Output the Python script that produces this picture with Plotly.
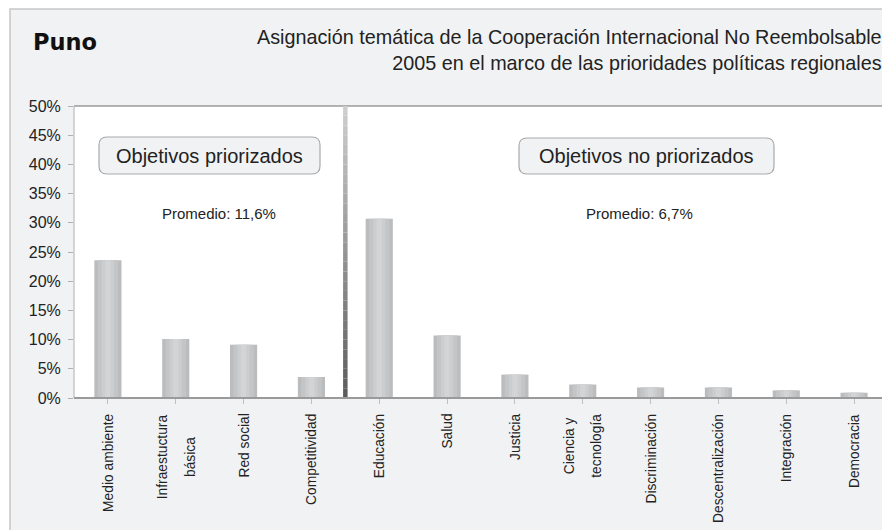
import plotly.graph_objects as go

categories = ["Medio ambiente", "Infraestuctura<br>básica", "Red social", "Competitividad",
              "Educación", "Salud", "Justicia", "Ciencia y<br>tecnología", "Discriminación",
              "Descentralización", "Integración", "Democracia"]
values = [23.6, 10.1, 9.1, 3.6, 30.7, 10.7, 4.0, 2.3, 1.8, 1.8, 1.3, 0.9]
y_ticks = [0, 5, 10, 15, 20, 25, 30, 35, 40, 45, 50]
y_tick_labels = [f"{v}%" for v in y_ticks]
group_labels = ["Objetivos priorizados", "Objetivos no priorizados"]
avg_labels = ["Promedio: 11,6%", "Promedio: 6,7%"]
title_left = "Puno"
title_right = "Asignación temática de la Cooperación Internacional No Reembolsable<br>2005 en el marco de las prioridades políticas regionales"

# page has an 8px body margin: figure is placed at (8, 8) in the window
OFF = 8
W, H = 890 - OFF, 530 - OFF
L, R, T, B = 74, 888, 106, 398          # plot area in window pixels
PW, PH = R - L, B - T

def px(x):
    return (x - L) / PW

def py(y):
    return (B - y) / PH

narrow = "Liberation Sans Narrow, Arial Narrow, Liberation Sans, Arial, sans-serif"
arial = "Liberation Sans, Arial, sans-serif"

fig = go.Figure()
x_idx = list(range(len(categories)))
for w, c in [(0.40, "#bbbcbe"), (0.30, "#c4c5c7"), (0.18, "#cccdcf"), (0.08, "#d3d4d6")]:
    fig.add_trace(go.Bar(x=x_idx, y=values, width=w,
                         marker=dict(color=c, line=dict(width=0)),
                         hoverinfo="skip"))

shapes = []
shapes.append(dict(type="rect", xref="paper", yref="paper", layer="below",
                   x0=px(10), x1=px(905), y0=py(545), y1=py(9),
                   fillcolor="#f1f2f4", line=dict(color="#c6c6c6", width=1.5)))
shapes.append(dict(type="rect", xref="paper", yref="paper", layer="below",
                   x0=0, x1=1, y0=0, y1=1, fillcolor="white", line=dict(width=0)))
shapes.append(dict(type="line", xref="paper", yref="paper", x0=0, x1=1, y0=1, y1=1,
                   line=dict(color="#6d6d6d", width=1.2)))
shapes.append(dict(type="line", xref="paper", yref="paper", x0=px(888.5), x1=px(888.5), y0=0, y1=1,
                   line=dict(color="#6d6d6d", width=1.5)))
shapes.append(dict(type="line", xref="paper", yref="paper", x0=px(74), x1=px(74), y0=0, y1=1,
                   line=dict(color="#b0b0b0", width=1)))
n = 30
for i in range(n):
    t = i / n
    g = int(205 - 115 * t)
    shapes.append(dict(type="line", xref="x", yref="paper", x0=3.5, x1=3.5,
                       y0=1 - t, y1=1 - (i + 1) / n,
                       line=dict(color=f"rgb({g},{g},{g})", width=4.5)))
shapes.append(dict(type="line", xref="paper", yref="paper", x0=0, x1=1, y0=0, y1=0,
                   line=dict(color="#9a9a9a", width=2)))

def rrect(x0, y0, x1, y1, r=8):
    X0, X1 = px(x0), px(x1)
    Y0, Y1 = py(y0), py(y1)
    rx, ry = r / PW, r / PH
    return (f"M {X0+rx},{Y0} L {X1-rx},{Y0} Q {X1},{Y0} {X1},{Y0-ry} "
            f"L {X1},{Y1+ry} Q {X1},{Y1} {X1-rx},{Y1} L {X0+rx},{Y1} "
            f"Q {X0},{Y1} {X0},{Y1+ry} L {X0},{Y0-ry} Q {X0},{Y0} {X0+rx},{Y0} Z")

boxes = [(99, 137, 320, 174), (519, 138, 774, 174)]
for b in boxes:
    shapes.append(dict(type="path", xref="paper", yref="paper", path=rrect(*b),
                       fillcolor="#f1f2f4", line=dict(color="#a9a9a9", width=1.2)))

annotations = []
for b, lab in zip(boxes, group_labels):
    annotations.append(dict(xref="paper", yref="paper", x=px((b[0] + b[2]) / 2), y=py((b[1] + b[3]) / 2),
                            text=lab, showarrow=False, font=dict(family=arial, size=20, color="#222"),
                            xanchor="center", yanchor="middle"))
for xc, lab in zip([219, 639], avg_labels):
    annotations.append(dict(xref="paper", yref="paper", x=px(xc), y=py(213), text=lab,
                            showarrow=False, font=dict(family=narrow, size=15, color="#222"),
                            xanchor="center", yanchor="middle"))
annotations.append(dict(xref="paper", yref="paper", x=px(31), y=py(42), text="<b>" + title_left + "</b>",
                        showarrow=False, font=dict(family="DejaVu Sans, Arial Black, sans-serif", size=22.5, color="#111"),
                        xanchor="left", yanchor="middle"))
annotations.append(dict(xref="paper", yref="paper", x=px(884), y=py(50), text=title_right,
                        showarrow=False, align="right", font=dict(family=arial, size=19.8, color="#222"),
                        xanchor="right", yanchor="middle"))
# category labels (rotated, centred lines with wide spacing)
for i, cat in enumerate(categories):
    txt = "<br>".join(f"<span style='font-size:13.8px'>{ln}</span>" for ln in cat.split("<br>"))
    annotations.append(dict(xref="x", yref="paper", x=i, y=py(412), text=txt, textangle=-90,
                            showarrow=False, align="center", xanchor="center", yanchor="top",
                            font=dict(family=narrow, size=21, color="#222")))

fig.update_layout(
    width=W, height=H,
    margin=dict(l=L - OFF, r=W - (R - OFF), t=T - OFF, b=H - (B - OFF), pad=0),
    paper_bgcolor="#ffffff", plot_bgcolor="rgba(0,0,0,0)",
    barmode="overlay", showlegend=False,
    shapes=shapes, annotations=annotations,
    xaxis=dict(range=[-0.5, len(categories) - 0.5], tickmode="array", tickvals=x_idx,
               ticktext=[""] * len(categories), showgrid=False, zeroline=False,
               ticks="outside", tickson="boundaries", ticklen=5, tickcolor="#c0c0c0",
               showline=False),
    yaxis=dict(range=[0, 50], tickmode="array", tickvals=y_ticks, ticktext=y_tick_labels,
               showgrid=False, zeroline=False, ticks="outside", ticklen=5, tickcolor="#b0b0b0",
               ticklabelstandoff=4,
               tickfont=dict(family=arial, size=16, color="#222"), showline=False),
)
fig.write_html("out.html")
